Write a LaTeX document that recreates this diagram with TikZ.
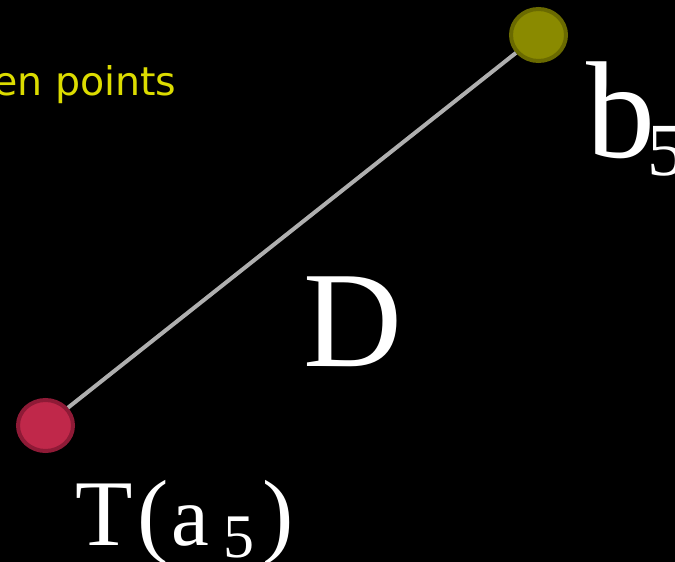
\documentclass[tikz,border=0pt]{standalone}
\usepackage{fontspec}
\setmainfont{Liberation Serif}
\newfontfamily\verd{DejaVu Sans}
\usetikzlibrary{shapes.geometric}
\definecolor{redfill}{HTML}{C0284A}
\definecolor{redline}{HTML}{8E1A36}
\definecolor{olfill}{HTML}{8A8A00}
\definecolor{olline}{HTML}{6A6A00}
\definecolor{yel}{HTML}{DCDC00}
\definecolor{seg}{HTML}{AFAFAF}
\newcommand{\fs}[1]{\fontsize{#1}{#1}\selectfont}
\tikzset{
  dot/.style={ellipse, line width=4pt, inner sep=0pt, minimum width=55pt, minimum height=51pt},
  lbl/.style={text=white, inner sep=0pt, anchor=base west},
}
\begin{document}
\begin{tikzpicture}[x=1pt, y=-1pt]
\useasboundingbox (0,0) rectangle (675,562);
\fill[black] (0,0) rectangle (675,562);
\clip (0,0) rectangle (675,562);
\node[yel, inner sep=0pt, anchor=base west, font=\verd\fs{39.5}] (cap) at (-7,95) {en points};
\node[dot, draw=redline, fill=redfill] (a) at (45.5,425.5) {};
\node[dot, draw=olline, fill=olfill, minimum height=52pt] (b) at (538.5,35) {};
\draw[seg, line width=4pt] (a) -- (b);
\node[lbl, font=\fs{137}] (d) at (303,366) {D};
\node[lbl, font=\fs{138}] (bl) at (586,157) {\rlap{b}\hspace{61pt}\raisebox{-18pt}{\fs{75}5}};
\node[lbl, font=\fs{94}] (ta) at (75,545) {\rlap{T}\hspace{62.5pt}\rlap{(}\hspace{34pt}\rlap{\fs{85}a}\hspace{51.5pt}\rlap{\raisebox{-12pt}{\fs{62}5}}\hspace{39pt})};
\end{tikzpicture}
\end{document}
